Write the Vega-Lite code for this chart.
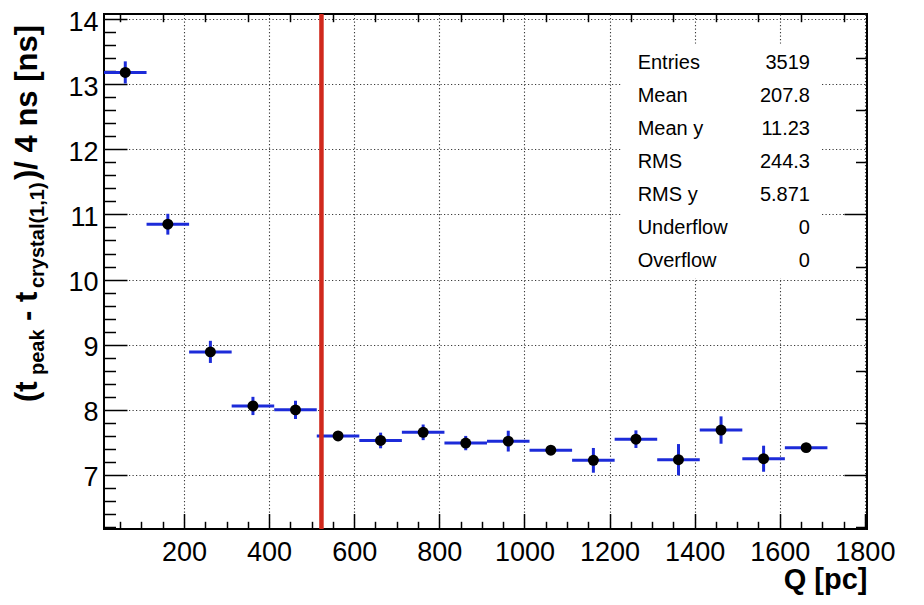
{
  "$schema": "https://vega.github.io/schema/vega-lite/v6.json",
  "width": 763,
  "height": 515,
  "autosize": {"type": "none"},
  "padding": {"left": 104, "top": 14, "right": 57, "bottom": 76},
  "background": "white",
  "config": {
    "font": "Liberation Sans",
    "view": {"stroke": "black", "strokeWidth": 2},
    "axis": {
      "domain": false,
      "labelFont": "Liberation Sans",
      "labelColor": "black",
      "labelFontSize": 27,
      "labelOverlap": false,
      "labelFlush": false,
      "labelBound": false,
      "tickColor": "black",
      "tickWidth": 1.5,
      "gridColor": "#3a3a3a",
      "gridDash": [1.2, 2.3],
      "gridWidth": 1.1,
      "titleFont": "Liberation Sans",
      "titleColor": "black"
    }
  },
  "data": {
    "values": [
      {"q": 62, "q_lo": 12, "q_hi": 112, "mean": 13.18, "err": 0.17},
      {"q": 162, "q_lo": 112, "q_hi": 212, "mean": 10.85, "err": 0.16},
      {"q": 262, "q_lo": 212, "q_hi": 312, "mean": 8.89, "err": 0.17},
      {"q": 362, "q_lo": 312, "q_hi": 412, "mean": 8.06, "err": 0.14},
      {"q": 462, "q_lo": 412, "q_hi": 512, "mean": 8.0, "err": 0.14},
      {"q": 562, "q_lo": 512, "q_hi": 612, "mean": 7.6, "err": 0.05},
      {"q": 662, "q_lo": 612, "q_hi": 712, "mean": 7.53, "err": 0.12},
      {"q": 762, "q_lo": 712, "q_hi": 812, "mean": 7.655, "err": 0.12},
      {"q": 862, "q_lo": 812, "q_hi": 912, "mean": 7.49, "err": 0.11},
      {"q": 962, "q_lo": 912, "q_hi": 1012, "mean": 7.52, "err": 0.16},
      {"q": 1062, "q_lo": 1012, "q_hi": 1112, "mean": 7.38, "err": 0.05},
      {"q": 1162, "q_lo": 1112, "q_hi": 1212, "mean": 7.225, "err": 0.19},
      {"q": 1262, "q_lo": 1212, "q_hi": 1312, "mean": 7.55, "err": 0.135},
      {"q": 1362, "q_lo": 1312, "q_hi": 1412, "mean": 7.235, "err": 0.24},
      {"q": 1462, "q_lo": 1412, "q_hi": 1512, "mean": 7.69, "err": 0.21},
      {"q": 1562, "q_lo": 1512, "q_hi": 1612, "mean": 7.25, "err": 0.2},
      {"q": 1662, "q_lo": 1612, "q_hi": 1712, "mean": 7.42, "err": 0.05}
    ]
  },
  "resolve": {"axis": {"x": "independent", "y": "independent"}},
  "layer": [
    {
      "encoding": {
        "x": {
          "field": "q",
          "type": "quantitative",
          "scale": {"domain": [12, 1805], "nice": false, "zero": false},
          "axis": {
            "orient": "bottom",
            "values": [50, 100, 150, 200, 250, 300, 350, 400, 450, 500, 550, 600, 650, 700, 750, 800, 850, 900, 950, 1000, 1050, 1100, 1150, 1200, 1250, 1300, 1350, 1400, 1450, 1500, 1550, 1600, 1650, 1700, 1750, 1800],
            "labelExpr": "datum.value % 200 === 0 ? format(datum.value, 'd') : ''",
            "tickSize": {"condition": {"test": "datum.value % 200 === 0", "value": -15.5}, "value": -7.7},
            "labelPadding": 26,
            "grid": true,
            "gridOpacity": {"condition": {"test": "datum.value % 200 === 0", "value": 1}, "value": 0},
            "title": "Q [pc]",
            "titleFontSize": 29,
            "titleFontWeight": "bold",
            "titleAnchor": "end",
            "titleAlign": "right",
            "titleBaseline": "alphabetic",
            "titleY": 59
          }
        },
        "y": {
          "field": "mean",
          "type": "quantitative",
          "scale": {"domain": [6.171, 14.077], "nice": false, "zero": false},
          "axis": {
            "orient": "left",
            "values": [6.2, 6.4, 6.6, 6.8, 7, 7.2, 7.4, 7.6, 7.8, 8, 8.2, 8.4, 8.6, 8.8, 9, 9.2, 9.4, 9.6, 9.8, 10, 10.2, 10.4, 10.6, 10.8, 11, 11.2, 11.4, 11.6, 11.8, 12, 12.2, 12.4, 12.6, 12.8, 13, 13.2, 13.4, 13.6, 13.8, 14],
            "labelExpr": "abs(datum.value - round(datum.value)) < 0.01 ? format(datum.value, 'd') : ''",
            "tickSize": {"condition": {"test": "abs(datum.value - round(datum.value)) < 0.01", "value": -23}, "value": -11.5},
            "labelPadding": 29,
            "labelOffset": 3,
            "grid": true,
            "gridOpacity": {"condition": {"test": "abs(datum.value - round(datum.value)) < 0.01", "value": 1}, "value": 0},
            "title": null
          }
        }
      },
      "layer": [
        {
          "mark": {"type": "rule", "color": "#1c2bd9", "strokeWidth": 3},
          "encoding": {
            "x": {"field": "q_lo", "type": "quantitative"},
            "x2": {"field": "q_hi"}
          }
        },
        {
          "mark": {"type": "errorbar", "color": "#1c2bd9", "thickness": 3},
          "encoding": {
            "yError": {"field": "err"}
          }
        },
        {
          "mark": {"type": "point", "filled": true, "color": "black", "opacity": 1, "size": 120}
        }
      ]
    },
    {
      "data": {"values": [{}]},
      "layer": [
        {
          "mark": {"type": "rect", "fill": "white", "stroke": null},
          "encoding": {
            "x": {
              "datum": 1227,
              "type": "quantitative",
              "scale": {"domain": [12, 1805], "nice": false, "zero": false},
              "axis": {
                "orient": "top",
                "values": [50, 100, 150, 200, 250, 300, 350, 400, 450, 500, 550, 600, 650, 700, 750, 800, 850, 900, 950, 1000, 1050, 1100, 1150, 1200, 1250, 1300, 1350, 1400, 1450, 1500, 1550, 1600, 1650, 1700, 1750, 1800],
                "labels": false,
                "grid": false,
                "tickSize": {"condition": {"test": "datum.value % 200 === 0", "value": -15.5}, "value": -7.7},
                "title": null
              }
            },
            "x2": {"datum": 1699},
            "y": {
              "datum": 13.62,
              "type": "quantitative",
              "scale": {"domain": [6.171, 14.077], "nice": false, "zero": false},
              "axis": {
                "orient": "right",
                "values": [6.2, 6.4, 6.6, 6.8, 7, 7.2, 7.4, 7.6, 7.8, 8, 8.2, 8.4, 8.6, 8.8, 9, 9.2, 9.4, 9.6, 9.8, 10, 10.2, 10.4, 10.6, 10.8, 11, 11.2, 11.4, 11.6, 11.8, 12, 12.2, 12.4, 12.6, 12.8, 13, 13.2, 13.4, 13.6, 13.8, 14],
                "labels": false,
                "grid": false,
                "tickSize": {"condition": {"test": "abs(datum.value - round(datum.value)) < 0.01", "value": -23}, "value": -11.5},
                "title": null
              }
            },
            "y2": {"datum": 10.02}
          }
        },
        {
          "mark": {"type": "rule", "color": "#d0281c", "strokeWidth": 4.5},
          "encoding": {"x": {"datum": 523}}
        },
        {
          "mark": {"type": "text", "text": ["Entries", "Mean", "Mean y", "RMS", "RMS y", "Underflow", "Overflow"], "align": "left", "baseline": "middle", "fontSize": 20, "lineHeight": 33, "color": "black"},
          "encoding": {"x": {"datum": 1266}, "y": {"datum": 13.32}}
        },
        {
          "mark": {"type": "text", "text": ["3519", "207.8", "11.23", "244.3", "5.871", "0", "0"], "align": "right", "baseline": "middle", "fontSize": 20, "lineHeight": 33, "color": "black"},
          "encoding": {"x": {"datum": 1671}, "y": {"datum": 13.32}}
        },
        {
          "mark": {"type": "text", "text": "(t", "angle": 270, "align": "left", "baseline": "alphabetic", "fontSize": 31, "fontWeight": "bold", "color": "black"},
          "encoding": {"x": {"datum": -145.4}, "y": {"datum": 8.121}}
        },
        {
          "mark": {"type": "text", "text": "peak", "angle": 270, "align": "left", "baseline": "alphabetic", "fontSize": 20, "fontWeight": "bold", "color": "black"},
          "encoding": {"x": {"datum": -129}, "y": {"datum": 8.535}}
        },
        {
          "mark": {"type": "text", "text": "- t", "angle": 270, "align": "left", "baseline": "alphabetic", "fontSize": 31, "fontWeight": "bold", "color": "black"},
          "encoding": {"x": {"datum": -145.4}, "y": {"datum": 9.364}}
        },
        {
          "mark": {"type": "text", "text": "crystal(1,1)", "angle": 270, "align": "left", "baseline": "alphabetic", "fontSize": 20, "fontWeight": "bold", "color": "black"},
          "encoding": {"x": {"datum": -129}, "y": {"datum": 9.87}}
        },
        {
          "mark": {"type": "text", "text": ")/ 4 ns [ns]", "angle": 270, "align": "left", "baseline": "alphabetic", "fontSize": 31, "fontWeight": "bold", "color": "black"},
          "encoding": {"x": {"datum": -145.4}, "y": {"datum": 11.529}}
        }
      ]
    }
  ]
}
